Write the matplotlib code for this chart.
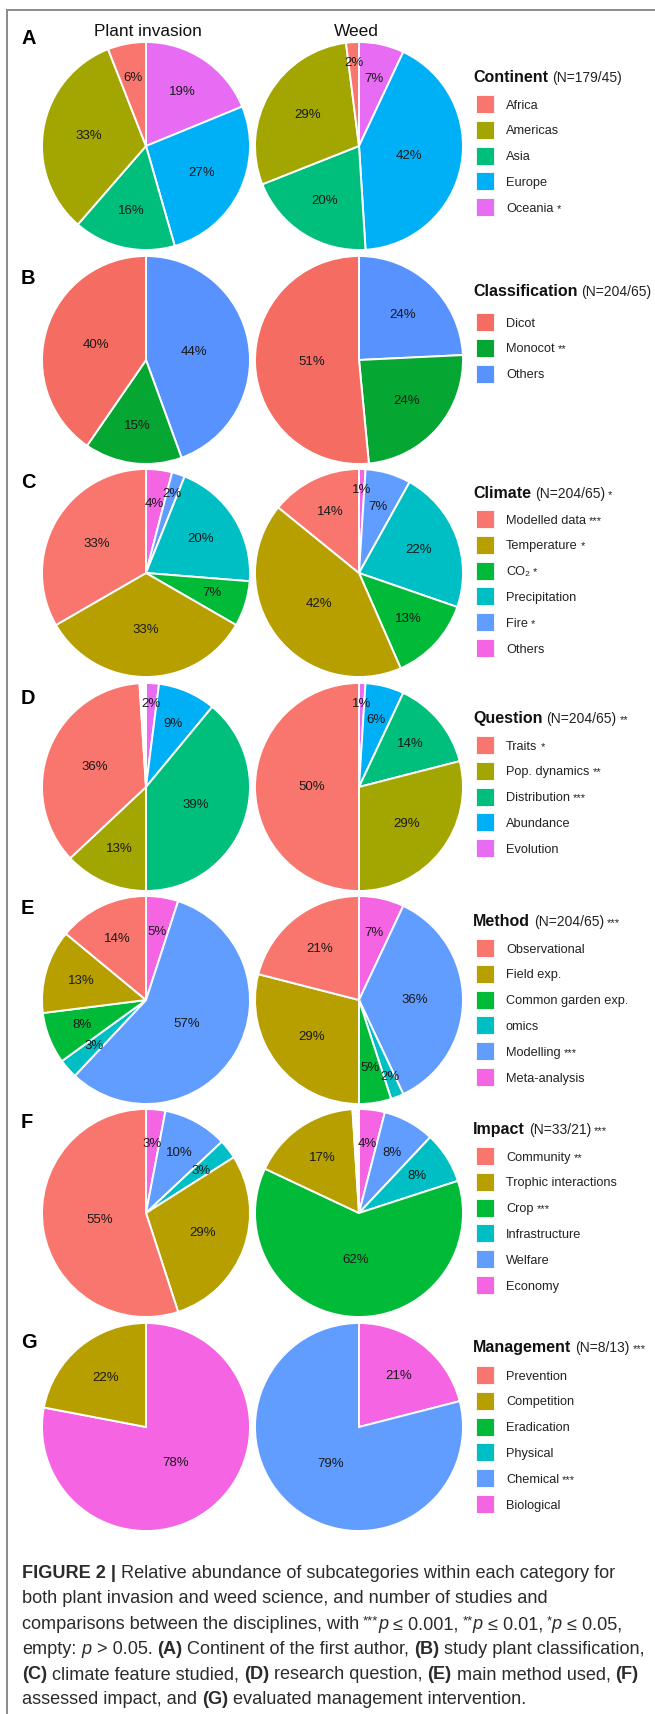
import math
import matplotlib
matplotlib.use("Agg")
import matplotlib.pyplot as plt
from matplotlib.lines import Line2D
from matplotlib.patches import Rectangle

plt.rcParams['font.family'] = ['Liberation Sans', 'DejaVu Sans']

# ---------------- data ----------------
col_titles = ["Plant invasion", "Weed"]
panel_letters = ["A", "B", "C", "D", "E", "F", "G"]
legend_titles = ["Continent", "Classification", "Climate", "Question", "Method", "Impact", "Management"]
legend_n = ["(N=179/45)", "(N=204/65)", "(N=204/65)", "(N=204/65)", "(N=204/65)", "(N=33/21)", "(N=8/13)"]
legend_sig = ["", "", "*", "**", "***", "***", "***"]

continent_labels = ["Africa", "Americas", "Asia", "Europe", "Oceania"]
continent_sig = ["", "", "", "", "*"]
continent_invasion = [6, 33, 16, 27, 19]
continent_weed = [2, 29, 20, 42, 7]

class_labels = ["Dicot", "Monocot", "Others"]
class_sig = ["", "**", ""]
class_invasion = [40, 15, 44]
class_weed = [51, 24, 24]

climate_labels = ["Modelled data", "Temperature", "CO\u2082", "Precipitation", "Fire", "Others"]
climate_sig = ["***", "*", "*", "", "*", ""]
climate_invasion = [33, 33, 7, 20, 2, 4]
climate_weed = [14, 42, 13, 22, 7, 1]

question_labels = ["Traits", "Pop. dynamics", "Distribution", "Abundance", "Evolution"]
question_sig = ["*", "**", "***", "", ""]
question_invasion = [36, 13, 39, 9, 2]
question_weed = [50, 29, 14, 6, 1]

method_labels = ["Observational", "Field exp.", "Common garden exp.", "omics", "Modelling", "Meta-analysis"]
method_sig = ["", "", "", "", "***", ""]
method_invasion = [14, 13, 8, 3, 57, 5]
method_weed = [21, 29, 5, 2, 36, 7]

impact_labels = ["Community", "Trophic interactions", "Crop", "Infrastructure", "Welfare", "Economy"]
impact_sig = ["**", "", "***", "", "", ""]
impact_invasion = [55, 29, 0, 3, 10, 3]
impact_weed = [0, 17, 62, 8, 8, 4]

management_labels = ["Prevention", "Competition", "Eradication", "Physical", "Chemical", "Biological"]
management_sig = ["", "", "", "", "***", ""]
management_invasion = [0, 22, 0, 0, 0, 78]
management_weed = [0, 0, 0, 0, 79, 21]

# unassigned share (blank wedge) per pie: (invasion, weed)
unassigned = [(0, 0), (0, 0), (0, 0), (1, 0), (0, 0), (0, 1), (0, 0)]

pal5 = ["#F8766D", "#A3A500", "#00BF7D", "#00B0F6", "#E76BF3"]
pal3 = ["#F46C62", "#06A632", "#5792FE"]
pal6 = ["#F8766D", "#B79F00", "#00BA38", "#00BFC4", "#619CFF", "#F564E3"]

panels = [
    (continent_labels, continent_sig, continent_invasion, continent_weed, pal5),
    (class_labels, class_sig, class_invasion, class_weed, pal3),
    (climate_labels, climate_sig, climate_invasion, climate_weed, pal6),
    (question_labels, question_sig, question_invasion, question_weed, pal5),
    (method_labels, method_sig, method_invasion, method_weed, pal6),
    (impact_labels, impact_sig, impact_invasion, impact_weed, pal6),
    (management_labels, management_sig, management_invasion, management_weed, pal6),
]

# ---------------- layout (pixels, y from top) ----------------
W, H, DPI = 655, 1714, 100
R = 104
row_y = [146, 360, 573, 787, 1000, 1213, 1427]
col_x = [146, 359]
letter_y = [38, 279, 483, 698, 909, 1122, 1342]
leg_title_y = [76, 290, 492, 717, 920, 1128, 1346]
leg_first_y = [104, 322, 519, 745, 948, 1156, 1375]
LEG_STEP = 25.8

fig = plt.figure(figsize=(W / DPI, H / DPI), dpi=DPI)
fig.patch.set_facecolor("white")
renderer = fig.canvas.get_renderer()


def fx(x):
    return x / W


def fy(y):
    return 1 - y / H


def txt(x, y, s, **kw):
    return fig.text(fx(x), fy(y), s, transform=fig.transFigure, **kw)


_space_cache = {}


def space_w(size, weight="normal", style="normal"):
    key = (size, weight, style)
    if key not in _space_cache:
        a = fig.text(0, 0, "a a", fontsize=size, fontweight=weight, fontstyle=style)
        b = fig.text(0, 0, "aa", fontsize=size, fontweight=weight, fontstyle=style)
        _space_cache[key] = a.get_window_extent(renderer).width - b.get_window_extent(renderer).width
        a.remove()
        b.remove()
    return _space_cache[key]


def draw_runs(x, y, parts, styles):
    """parts: (text, style_key, space_before). y is baseline (px from top)."""
    for text, key, sp in parts:
        st = dict(styles[key])
        dy = st.pop("dy", 0)
        if sp:
            x += space_w(st.get("fontsize", 10), st.get("fontweight", "normal"), st.get("fontstyle", "normal"))
        t = txt(x, y + dy, text, ha="left", va="baseline", **st)
        x += t.get_window_extent(renderer).width
    return x


# frame lines
fig.add_artist(Line2D([fx(7), fx(655)], [fy(10), fy(10)], color="#8a8a8a", lw=1.4, transform=fig.transFigure))
fig.add_artist(Line2D([fx(7), fx(7)], [fy(10), fy(1714)], color="#8a8a8a", lw=1.4, transform=fig.transFigure))

# column titles
txt(148, 32, col_titles[0], ha="center", va="center", fontsize=12.4, color="#111111")
txt(356, 32, col_titles[1], ha="center", va="center", fontsize=12.4, color="#111111")


def label_radius(frac):
    if frac <= 0.03:
        return 0.8
    a = math.pi * frac
    return max((2.0 / 3.0) * math.sin(a) / a, 0.45)


for i, (labels, sigs, inv, weed, pal) in enumerate(panels):
    yc = row_y[i]
    for j, vals in enumerate([inv, weed]):
        xc = col_x[j]
        ax = fig.add_axes([fx(xc - R), fy(yc + R), 2 * R / W, 2 * R / H])
        ax.axis("off")
        v = [val for val in vals if val > 0]
        c = [pal[k] for k, val in enumerate(vals) if val > 0]
        v_cw = v[::-1]
        c_cw = c[::-1]
        gap = unassigned[i][j]
        if gap > 0:
            v_cw = v_cw + [gap]
            c_cw = c_cw + ["white"]
        wedges, _ = ax.pie(v_cw, colors=c_cw, startangle=90, counterclock=False, radius=1,
                           wedgeprops=dict(edgecolor="white", linewidth=1.4))
        for w in wedges:
            w.set_clip_on(False)
        for k, w in enumerate(wedges[:len(v)]):
            frac = (w.theta2 - w.theta1) / 360.0
            mid = math.radians((w.theta1 + w.theta2) / 2.0)
            r = label_radius(frac)
            ax.text(r * math.cos(mid), r * math.sin(mid), f"{v_cw[k]}%", ha="center", va="center",
                    fontsize=9.5, color="#1a1a1a")
        ax.set_xlim(-1, 1)
        ax.set_ylim(-1, 1)

    # panel letter
    txt(21, letter_y[i], panel_letters[i], ha="left", va="center", fontsize=14.4, fontweight="bold", color="black")

    # legend title
    styles = {
        "b": dict(fontsize=11.5, fontweight="bold", color="#111111"),
        "n": dict(fontsize=10, color="#222222"),
        "s": dict(fontsize=8, color="#222222"),
    }
    parts = [(legend_titles[i], "b", False), (legend_n[i], "n", True)]
    if legend_sig[i]:
        parts.append((legend_sig[i], "s", True))
    draw_runs(473, leg_title_y[i] + 5.8, parts, styles)

    # legend entries
    lstyles = {
        "l": dict(fontsize=9.2, color="#222222"),
        "s": dict(fontsize=8, color="#222222"),
    }
    for k, lab in enumerate(labels):
        ey = leg_first_y[i] + k * LEG_STEP
        fig.add_artist(Rectangle((fx(476), fy(ey + 9)), 18 / W, 18 / H, transform=fig.transFigure,
                                 facecolor=pal[k], edgecolor="white", lw=0.6))
        parts = [(lab, "l", False)]
        if sigs[k]:
            parts.append((sigs[k], "s", True))
        draw_runs(506, ey + 4.6, parts, lstyles)

# caption
cstyles = {
    "r": dict(fontsize=13.1, color="#2b2b2b"),
    "b": dict(fontsize=13.1, fontweight="bold", color="#2b2b2b"),
    "i": dict(fontsize=13.1, fontstyle="italic", color="#2b2b2b"),
    "sup": dict(fontsize=9.5, color="#2b2b2b", dy=-5),
}
caption_lines = [
    [("FIGURE 2 |", "b", False), ("Relative abundance of subcategories within each category for", "r", True)],
    [("both plant invasion and weed science, and number of studies and", "r", False)],
    [("comparisons between the disciplines, with", "r", False), ("***", "sup", True), ("p", "i", False),
     ("\u2264 0.001,", "r", True), ("**", "sup", True), ("p", "i", False), ("\u2264 0.01,", "r", True),
     ("*", "sup", True), ("p", "i", False), ("\u2264 0.05,", "r", True)],
    [("empty:", "r", False), ("p", "i", True), ("> 0.05.", "r", True), ("(A)", "b", True),
     ("Continent of the first author,", "r", True), ("(B)", "b", True), ("study plant classification,", "r", True)],
    [("(C)", "b", False), ("climate feature studied,", "r", True), ("(D)", "b", True), ("research question,", "r", True),
     ("(E)", "b", True), ("main method used,", "r", True), ("(F)", "b", True)],
    [("assessed impact, and", "r", False), ("(G)", "b", True), ("evaluated management intervention.", "r", True)],
]
cap_base = [1578, 1603, 1629, 1654, 1679, 1704]
for line, yb in zip(caption_lines, cap_base):
    draw_runs(22, yb, line, cstyles)

fig.savefig("out.png", dpi=DPI, facecolor="white")
